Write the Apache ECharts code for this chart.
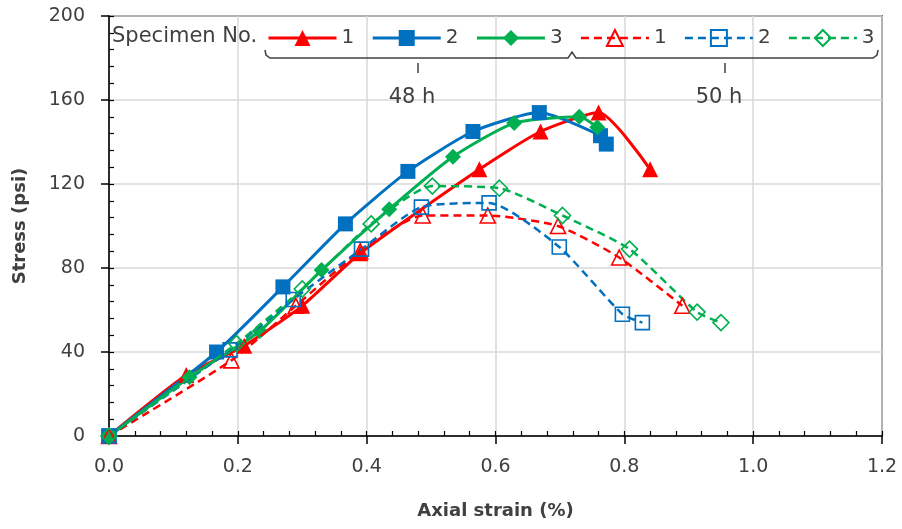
<!DOCTYPE html>
<html><head><meta charset="utf-8">
<script src="https://cdn.jsdelivr.net/npm/echarts@6/dist/echarts.min.js"></script>
<style>html,body{margin:0;padding:0;background:#fff}#c{width:902px;height:529px}</style>
</head><body><div id="c"></div>
<script>
// ---- data (strain %, stress psi) ----
var xTicks = [0, 0.2, 0.4, 0.6, 0.8, 1.0, 1.2];
var yTicks = [0, 40, 80, 120, 160, 200];
var legendNames = ['1', '2', '3', '1', '2', '3'];
var groupLabels = ['48 h', '50 h'];

var s1_48_x = [0, 0.12, 0.21, 0.30, 0.39, 0.575, 0.67, 0.76, 0.84];
var s1_48_y = [0, 29, 43, 62, 87, 127, 145, 154, 127];
var s2_48_x = [0, 0.167, 0.27, 0.367, 0.464, 0.565, 0.668, 0.763, 0.772];
var s2_48_y = [0, 40, 71, 101, 126, 145, 154, 143, 139];
var s3_48_x = [0, 0.125, 0.234, 0.33, 0.435, 0.534, 0.629, 0.73, 0.758];
var s3_48_y = [0, 28, 50, 79, 108, 133, 149, 152, 147];
var s1_50_x = [0, 0.19, 0.29, 0.39, 0.487, 0.588, 0.697, 0.792, 0.89];
var s1_50_y = [0, 36, 62, 88, 105, 105, 100, 85, 62];
var s2_50_x = [0, 0.188, 0.286, 0.392, 0.485, 0.59, 0.699, 0.797, 0.828];
var s2_50_y = [0, 41, 65, 89, 109, 111, 90, 58, 54];
var s3_50_x = [0, 0.198, 0.30, 0.407, 0.502, 0.606, 0.704, 0.808, 0.913, 0.95];
var s3_50_y = [0, 44, 70, 101, 119, 118, 105, 89, 59, 54];

function zip(xs, ys) { return xs.map(function (x, i) { return [x, ys[i]]; }); }

var RED = '#ff0000', BLUE = '#0070c0', GREEN = '#00b050';
var FONT = '"DejaVu Sans"';
var TXT = '#404040';

function solid(idx, color, sym, size, xs, ys) {
  return {
    name: 'S' + idx, type: 'line', data: zip(xs, ys), smooth: 0.2,
    symbol: sym, symbolSize: size, showSymbol: true,
    lineStyle: { color: color, width: 3 },
    itemStyle: { color: color, borderWidth: 0 },
    z: 3
  };
}
function dashed(idx, color, sym, size, xs, ys) {
  return {
    name: 'S' + idx, type: 'line', data: zip(xs, ys), smooth: 0.2,
    symbol: sym, symbolSize: size, showSymbol: true,
    lineStyle: { color: color, width: 2.5, type: [8, 5] },
    itemStyle: { color: 'rgba(255,255,255,0)', borderColor: color, borderWidth: 1.6 },
    z: 4
  };
}

var series = [
  solid(0, RED, 'triangle', 16, s1_48_x, s1_48_y),
  solid(1, BLUE, 'rect', 15, s2_48_x, s2_48_y),
  solid(2, GREEN, 'diamond', 16, s3_48_x, s3_48_y),
  dashed(3, RED, 'triangle', 15, s1_50_x, s1_50_y),
  dashed(4, BLUE, 'rect', 14, s2_50_x, s2_50_y),
  dashed(5, GREEN, 'diamond', 16, s3_50_x, s3_50_y)
];

var legendData = series.map(function (s, i) {
  return { name: s.name, lineStyle: { width: i < 3 ? 3 : 2.5 } };
});

var chart = echarts.init(document.getElementById('c'), null, { renderer: 'canvas' });
var L = 109, R = 882, T = 16, B = 436;
var braceY = 58;
chart.setOption({
  animation: false,
  backgroundColor: '#fff',
  grid: { left: L, right: 902 - R, top: T, bottom: 529 - B, show: true, borderColor: '#000', borderWidth: 1.5, backgroundColor: 'transparent' },
  xAxis: [{
    type: 'value', min: 0, max: 1.2, interval: 0.2,
    name: 'Axial strain (%)', nameLocation: 'middle', nameGap: 66,
    nameTextStyle: { fontFamily: FONT, fontSize: 18, fontWeight: 'bold', color: TXT },
    axisLine: { show: true, lineStyle: { color: '#000', width: 1.5 } },
    axisTick: { show: true, inside: false, length: 8, lineStyle: { color: '#000', width: 1.5 } },
    axisLabel: { margin: 22, fontFamily: FONT, fontSize: 19, color: TXT, formatter: function (v) { return v.toFixed(1); } },
    splitLine: { show: true, lineStyle: { color: '#d9d9d9', width: 1.5 } }
  }, {
    type: 'value', min: 0, max: 1.2, interval: 0.04, position: 'bottom',
    axisLine: { show: false }, axisLabel: { show: false }, splitLine: { show: false },
    axisTick: { show: true, inside: true, length: 5, lineStyle: { color: '#000', width: 1.2 } }
  }],
  yAxis: [{
    type: 'value', min: 0, max: 200, interval: 40,
    name: 'Stress (psi)', nameLocation: 'middle', nameGap: 80,
    nameTextStyle: { fontFamily: FONT, fontSize: 18, fontWeight: 'bold', color: TXT },
    axisLine: { show: true, lineStyle: { color: '#000', width: 1.5 } },
    axisTick: { show: true, inside: false, length: 8, lineStyle: { color: '#000', width: 1.5 } },
    axisLabel: { margin: 24, fontFamily: FONT, fontSize: 19, color: TXT },
    splitLine: { show: true, lineStyle: { color: '#d9d9d9', width: 1.5 } }
  }, {
    type: 'value', min: 0, max: 200, interval: 8, position: 'left',
    axisLine: { show: false }, axisLabel: { show: false }, splitLine: { show: false },
    axisTick: { show: true, inside: true, length: 5, lineStyle: { color: '#000', width: 1.2 } }
  }],
  legend: {
    left: 262, top: 23, itemWidth: 68, itemHeight: 20, itemGap: 17,
    data: legendData,
    formatter: function (n) { return legendNames[+n.slice(1)]; },
    textStyle: { fontFamily: FONT, fontSize: 20, color: TXT },
    backgroundColor: 'transparent'
  },
  graphic: [
    { type: 'text', z: 100, left: 112, top: 26, style: { text: 'Specimen No.', font: '21px ' + FONT, fill: TXT } },
    { type: 'polyline', z: 100, shape: { points: [[265, 50], [266, 55], [270, braceY], [568, braceY], [572, 52], [576, braceY], [873, braceY], [877, 55], [878, 50]], smooth: 0 }, style: { stroke: '#404040', lineWidth: 1.5, fill: null } },
    { type: 'line', z: 100, shape: { x1: 418, y1: 63, x2: 418, y2: 73 }, style: { stroke: '#404040', lineWidth: 1.5 } },
    { type: 'line', z: 100, shape: { x1: 725, y1: 63, x2: 725, y2: 73 }, style: { stroke: '#404040', lineWidth: 1.5 } },
    { type: 'text', z: 100, x: 412, y: 98, style: { text: groupLabels[0], font: '21px ' + FONT, fill: TXT, textAlign: 'center', textVerticalAlign: 'middle' } },
    { type: 'text', z: 100, x: 719, y: 98, style: { text: groupLabels[1], font: '21px ' + FONT, fill: TXT, textAlign: 'center', textVerticalAlign: 'middle' } }
  ],
  series: series
});
</script></body></html>
